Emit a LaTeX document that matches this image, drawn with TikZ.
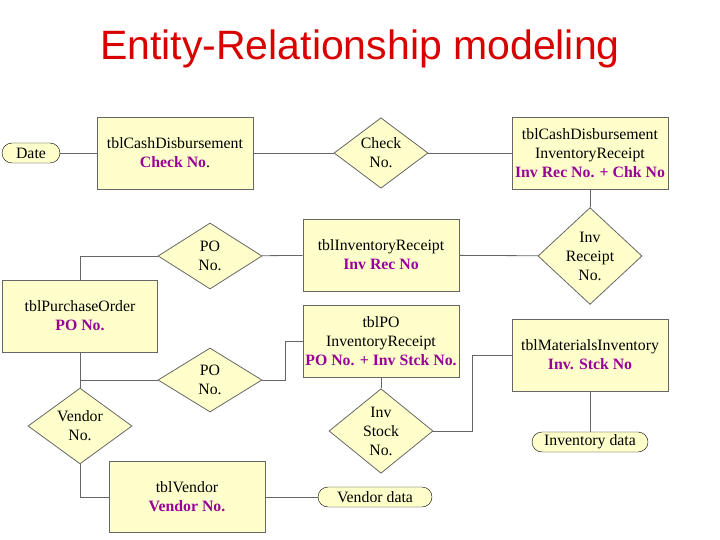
\documentclass[tikz,border=0pt]{standalone}
\usepackage{fontspec}
\setmainfont{Liberation Serif}
\newfontfamily\titlefont{Liberation Sans}
\usetikzlibrary{shapes.geometric}
\definecolor{boxfill}{HTML}{FFFFCC}
\definecolor{keyc}{HTML}{990099}
\definecolor{edgec}{HTML}{666666}
\begin{document}
\begin{tikzpicture}[x=1pt,y=-1pt,
  ent/.style={draw=edgec,fill=boxfill,line width=0.8pt,minimum width=156pt,minimum height=72pt,align=center,inner sep=1pt,font=\fontsize{15.8}{19}\selectfont},
  rel/.style={draw=edgec,fill=boxfill,diamond,line width=0.8pt,minimum width=104pt,minimum height=66pt,align=center,inner sep=0pt,font=\fontsize{15.8}{19}\selectfont},
  attr/.style={draw=black,fill=boxfill,rounded corners=10pt,minimum height=20pt,inner sep=1pt,font=\fontsize{15.8}{17}\selectfont},
  conn/.style={draw=edgec,line width=0.8pt}]
\useasboundingbox (0,0) rectangle (720,540);
\node[font=\titlefont\fontsize{41}{44}\selectfont,text=red!85!black] (title) at (360,49) {Entity-Relationship modeling};
\newcommand{\K}[1]{\textcolor{keyc}{\textbf{#1}}}
\node[attr,minimum width=58pt] (date) at (31,153) {Date};
\node[ent] (cd) at (175,153) {tblCashDisbursement\\\K{Check No}.};
\node[rel,minimum width=94pt,minimum height=64pt] (chk) at (381,153) {Check\\No.};
\node[ent] (cdir) at (590,153) {tblCashDisbursement\\InventoryReceipt\\\K{Inv Rec No. + Chk No}};
\node[rel] (irn) at (590,256) {Inv\\Receipt\\No.};
\node[ent] (ir) at (381,255) {tblInventoryReceipt\\\K{Inv Rec No}};
\node[rel] (po1) at (210,256) {PO\\No.};
\node[ent,minimum width=155pt] (po) at (80,316) {tblPurchaseOrder\\\K{PO No.}};
\node[ent] (poir) at (381,341) {tblPO\\InventoryReceipt\\\K{PO No. + Inv Stck No.}};
\node[rel,minimum height=64pt] (po2) at (210,380) {PO\\No.};
\node[rel,minimum height=64pt] (vn) at (80,426) {Vendor\\No.};
\node[ent,minimum height=71pt] (ven) at (187,497) {tblVendor\\\K{Vendor No.}};
\node[attr,minimum width=114pt] (vd) at (375,497) {Vendor data};
\node[rel,minimum height=68pt] (isn) at (381,431) {Inv\\Stock\\No.};
\node[ent] (mi) at (590,355) {tblMaterialsInventory\\\K{Inv. Stck No}};
\node[attr,minimum width=116pt] (id) at (590,442) {Inventory data};
\coordinate (j1) at (80,380);
\draw[conn] (date) -- (cd);
\draw[conn] (cd) -- (chk);
\draw[conn] (chk) -- (cdir);
\draw[conn] (cdir) -- (irn);
\draw[conn] (irn) -- (ir);
\draw[conn] (ir) -- (po1);
\draw[conn] (po1.west) -| (po.north);
\draw[conn] (po.south) -- (j1) -- (po2.west);
\draw[conn] (j1) -- (vn.north);
\draw[conn] (po2.east) -- ++(23,0) |- (poir.west);
\draw[conn] (vn.south) |- (ven.west);
\draw[conn] (ven) -- (vd);
\draw[conn] (poir) -- (isn);
\draw[conn] (isn.east) -- ++(39,0) |- (mi.west);
\draw[conn] (mi) -- (id);
\end{tikzpicture}
\end{document}
